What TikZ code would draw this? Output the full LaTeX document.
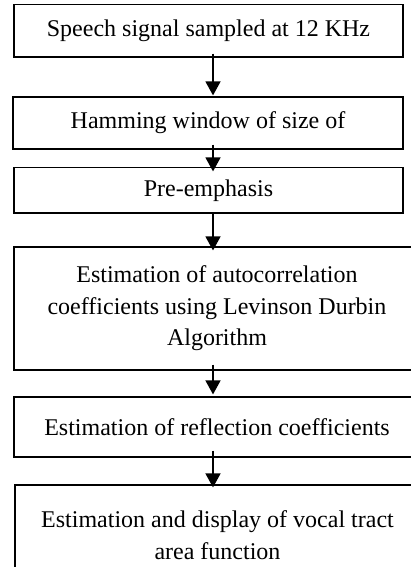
\documentclass[tikz,border=0pt]{standalone}
\usepackage{fontspec}
\setmainfont{Liberation Serif}
\usetikzlibrary{arrows.meta}
\tikzset{
  stagebox/.style={draw=black, line width=1.2pt, fill=white, inner sep=0pt, align=center,
    font=\fontsize{24}{31.5}\selectfont},
  flowarrow/.style={line width=1.5pt, -{Triangle[width=15pt,length=14pt]}}
}
\begin{document}
\begin{tikzpicture}[x=1pt,y=-1pt]
\useasboundingbox (0,0) rectangle (411,567);
\clip (0,0) rectangle (411,567);
\node[stagebox, minimum width=389pt, minimum height=52.5pt] (b1) at (208.5,30.75) {Speech signal sampled at 12 KHz};
\node[stagebox, minimum width=390pt, minimum height=52pt] (b2) at (208,123) {Hamming window of size of};
\node[stagebox, minimum width=389pt, minimum height=45.5pt] (b3) at (208.5,190.25) {Pre-emphasis};
\node[stagebox, minimum width=406pt, minimum height=123pt] (b4) at (217,308.5) {Estimation of autocorrelation\\coefficients using Levinson Durbin\\Algorithm};
\node[stagebox, minimum width=406pt, minimum height=60pt] (b5) at (217,427) {Estimation of reflection coefficients};
\node[stagebox, minimum width=405pt, minimum height=100pt] (b6) at (217.5,535) {Estimation and display of vocal tract\\area function};
\coordinate (ax) at (213,0);
\coordinate (s1) at (b1.south -| ax);
\coordinate (e1) at (b2.north -| ax);
\coordinate (s2) at (b2.south -| ax);
\coordinate (e2) at (b3.north -| ax);
\coordinate (s3) at (b3.south -| ax);
\coordinate (e3) at (b4.north -| ax);
\coordinate (s4) at (b4.south -| ax);
\coordinate (e4) at (b5.north -| ax);
\coordinate (s5) at (b5.south -| ax);
\coordinate (e5) at (b6.north -| ax);
\draw[flowarrow] ([yshift=4pt]s1) -- ([yshift=1pt]e1);
\draw[flowarrow] ([yshift=5pt]s2) -- ([yshift=-4.5pt]e2);
\draw[flowarrow] (s3) -- ([yshift=-4pt]e3);
\draw[flowarrow] ([yshift=6pt]s4) -- ([yshift=2pt]e4);
\draw[flowarrow] ([yshift=7pt]s5) -- ([yshift=-3pt]e5);
\end{tikzpicture}
\end{document}
